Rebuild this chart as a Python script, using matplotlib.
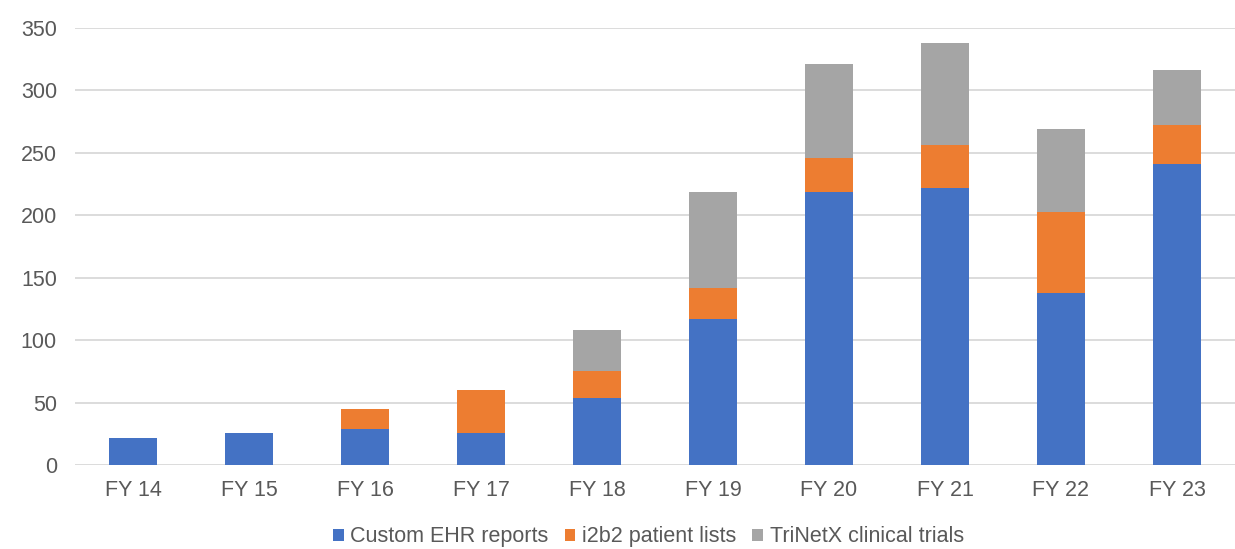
import matplotlib.pyplot as plt
import numpy as np

# Dados
anos = ["FY 14", "FY 15", "FY 16", "FY 17", "FY 18", "FY 19", "FY 20", "FY 21", "FY 22", "FY 23"]
custom_ehr = [22, 26, 29, 26, 54, 117, 219, 222, 138, 241]
i2b2 = [0, 0, 16, 34, 21, 25, 27, 34, 65, 31]
trinetx = [0, 0, 0, 0, 33, 77, 75, 82, 66, 44]

cores = ["#4472C4", "#ED7D31", "#A5A5A5"]
rotulos = ["Custom EHR reports", "i2b2 patient lists", "TriNetX clinical trials"]

plt.rcParams["font.family"] = ["Liberation Sans", "DejaVu Sans"]

fig = plt.figure(figsize=(12.35, 5.49), dpi=100)
ax = fig.add_axes([0.0607, 0.153, 0.9393, 0.796])

x = np.arange(len(anos))
largura = 0.41

base = np.zeros(len(anos))
for valores, cor, rotulo in zip([custom_ehr, i2b2, trinetx], cores, rotulos):
    ax.bar(x, valores, largura, bottom=base, color=cor, label=rotulo, zorder=3)
    base += np.array(valores)

ax.set_xlim(-0.5, len(anos) - 0.5)
ax.set_ylim(0, 350)
ax.set_yticks(range(0, 351, 50))
ax.set_xticks(x)
ax.set_xticklabels(anos)

ax.grid(axis="y", color="#D9D9D9", linewidth=1.3, zorder=0)
for s in ax.spines.values():
    s.set_visible(False)
ax.tick_params(axis="both", length=0, labelsize=15.5, colors="#595959")
ax.tick_params(axis="y", pad=13)
ax.tick_params(axis="x", pad=11)

fig.legend(loc="center", bbox_to_anchor=(0.525, 0.022), ncol=3, frameon=False,
           fontsize=15.5, handlelength=0.5, handleheight=0.5, handletextpad=0.3,
           columnspacing=0.75, labelcolor="#595959")

plt.savefig("out.png", dpi=100)
